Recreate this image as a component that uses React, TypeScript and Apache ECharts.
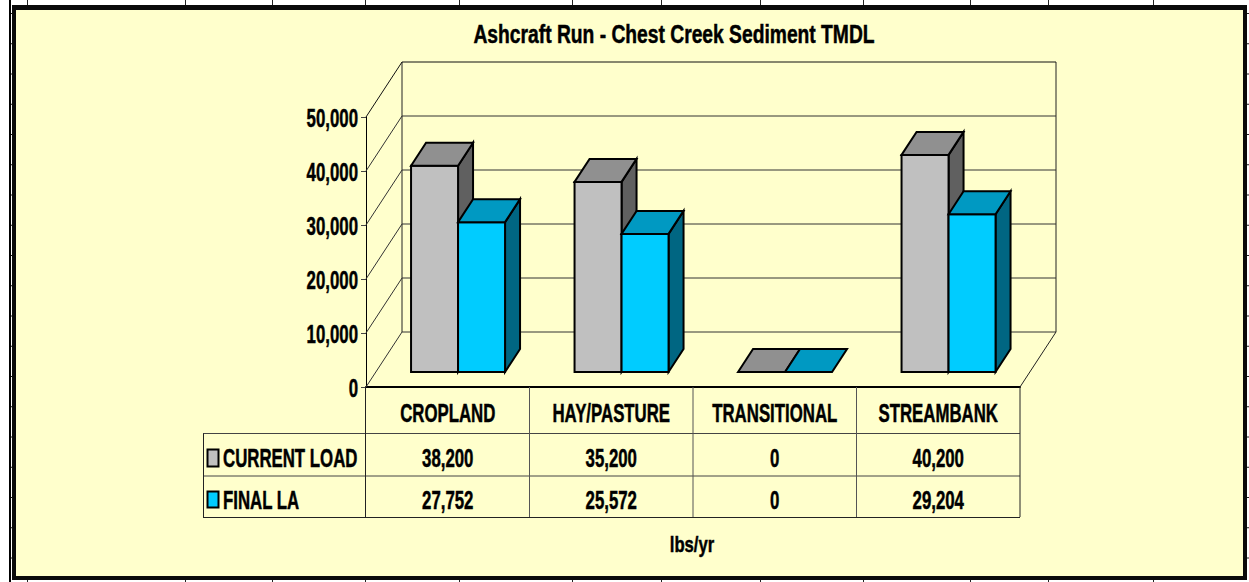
import React, { useEffect, useRef } from "react";
import * as echarts from "echarts";

const categories = ["CROPLAND", "HAY/PASTURE", "TRANSITIONAL", "STREAMBANK"];
const currentLoad = [38200, 35200, 0, 40200];
const finalLa = [27752, 25572, 0, 29204];
const tickValues = [0, 10000, 20000, 30000, 40000, 50000];
const seriesNames = ["CURRENT LOAD", "FINAL LA"];
const titleText = "Ashcraft Run - Chest Creek Sediment TMDL";
const unitText = "lbs/yr";

const FONT = '"Liberation Sans", Arial, sans-serif';
const STRETCH_Y = 1.22;
const NARROW_X = 0.82;
const TEXT_NUDGE = 1.5;
const WALL_DX = 36;
const WALL_DY = -55;
const BAR_DX = 10.3;
const BAR_DY = -15;
const DEPTH_DX = 15;
const DEPTH_DY = -23;
const GRAY = { front: "#C0C0C0", top: "#909090", side: "#606060" };
const CYAN = { front: "#00CCFF", top: "#0099C2", side: "#006682" };
const BG = "#FFFFCC";
const pageTicksX = [27, 185, 272, 365, 459, 572, 661, 760, 863, 970, 1048, 1153];
const pageTicksYCount = 19;

const label = (text: string, x: number, y: number, size: number, align = "center", sx = NARROW_X) => ({
  type: "text",
  x,
  y: y + TEXT_NUDGE,
  scaleX: sx,
  scaleY: STRETCH_Y,
  silent: true,
  style: {
    text,
    fontFamily: FONT,
    fontSize: size,
    fontWeight: "bold",
    fill: "#000",
    stroke: "#000",
    lineWidth: 0.4,
    align,
    verticalAlign: "middle",
  },
});

const fmt = (v: number) => v.toLocaleString("en-US");

const wallRender = (params: any, api: any) => {
  const cs = params.coordSys;
  const v = api.value(1);
  const y = api.coord([0, v])[1];
  const x0 = cs.x;
  const x1 = cs.x + cs.width;
  const isMax = v === tickValues[tickValues.length - 1];
  const children: any[] = [
    {
      type: "polyline",
      shape: {
        points: [
          [x0, y],
          [x0 + WALL_DX, y + WALL_DY],
          [x1 + WALL_DX, y + WALL_DY],
        ],
      },
      style: { stroke: isMax ? "#111" : "#333", lineWidth: 1, fill: "none" },
    },
    label(fmt(v), x0 - 8, y, 20.5, "right"),
  ];
  if (v === 0) {
    children.push({
      type: "line",
      shape: { x1: x1, y1: y, x2: x1 + WALL_DX, y2: y + WALL_DY },
      style: { stroke: "#222", lineWidth: 1 },
    });
    children.push({
      type: "line",
      shape: { x1: x0 + WALL_DX, y1: cs.y + WALL_DY, x2: x0 + WALL_DX, y2: y + WALL_DY },
      style: { stroke: "#222", lineWidth: 1 },
    });
    children.push({
      type: "line",
      shape: { x1: x1 + WALL_DX, y1: cs.y + WALL_DY, x2: x1 + WALL_DX, y2: y + WALL_DY },
      style: { stroke: "#222", lineWidth: 1 },
    });
  }
  return { type: "group", children };
};

const barRender = (which: number, colors: typeof GRAY) => (params: any, api: any) => {
  const idx = api.value(0);
  const [cx, yBase] = api.coord([idx, 0]);
  const yTopRaw = api.coord([idx, api.value(1)])[1];
  const w = (api.size([1, 0])[0] * 47) / 163.5;
  const xl = cx + BAR_DX - (which === 0 ? w : 0);
  const xr = xl + w;
  const yb = yBase + BAR_DY;
  const yt = yTopRaw + BAR_DY;
  const stroke = { stroke: "#000", lineWidth: 2, lineJoin: "miter" };
  const children: any[] = [];
  if (yb - yt > 0) {
    children.push({
      type: "polygon",
      shape: {
        points: [
          [xr, yt],
          [xr + DEPTH_DX, yt + DEPTH_DY],
          [xr + DEPTH_DX, yb + DEPTH_DY],
          [xr, yb],
        ],
      },
      style: { fill: colors.side, ...stroke },
    });
    children.push({
      type: "rect",
      shape: { x: xl, y: yt, width: w, height: yb - yt },
      style: { fill: colors.front, ...stroke },
    });
  }
  children.push({
    type: "polygon",
    shape: {
      points: [
        [xl, yt],
        [xl + DEPTH_DX, yt + DEPTH_DY],
        [xr + DEPTH_DX, yt + DEPTH_DY],
        [xr, yt],
      ],
    },
    style: { fill: colors.top, ...stroke },
  });
  return { type: "group", children };
};

const tableRender = (params: any, api: any) => {
  const idx = api.value(0);
  const [cx, yBase] = api.coord([idx, 0]);
  const halfW = api.size([1, 0])[0] / 2;
  const right = cx + halfW;
  const lineBottom = yBase + 130;
  return {
    type: "group",
    children: [
      {
        type: "line",
        shape: { x1: right, y1: yBase, x2: right, y2: lineBottom },
        style: { stroke: idx === categories.length - 1 ? "#222" : "#555", lineWidth: 1 },
      },
      label(categories[idx], cx, yBase + 25, 20.5),
      label(fmt(api.value(1)), cx, yBase + 70, 20.5),
      label(fmt(api.value(2)), cx, yBase + 112, 20.5),
    ],
  };
};

const hline = (x1: number, x2: number, y: number, stroke = "#333", lineWidth = 1) => ({
  type: "line",
  shape: { x1, y1: y, x2, y2: y },
  style: { stroke, lineWidth },
  z: 1,
});
const vline = (x: number, y1: number, y2: number, stroke = "#333", lineWidth = 1) => ({
  type: "line",
  shape: { x1: x, y1, x2: x, y2 },
  style: { stroke, lineWidth },
  z: 1,
});

const pageDecor: any[] = [
  { type: "rect", shape: { x: 12, y: 5, width: 1235, height: 575 }, style: { fill: "#0a0a0a" }, z: 0 },
  { type: "rect", shape: { x: 16, y: 10, width: 1227, height: 566 }, style: { fill: BG }, z: 0 },
  { type: "rect", shape: { x: 9, y: 0, width: 2, height: 582 }, style: { fill: "#000" }, z: 0 },
  ...pageTicksX.flatMap((x) => [vline(x + 0.5, 0, 5, "#222"), vline(x + 0.5, 580, 582, "#222")]),
  ...Array.from({ length: pageTicksYCount }, (_, i) => 13.5 + i * 30.25).flatMap((y) => [
    hline(11, 13, y, "#111"),
    hline(1247, 1249, y, "#222"),
  ]),
];

const tableDecor: any[] = [
  hline(203, 1020, 433.5, "#444"),
  hline(203, 1020, 476, "#444"),
  hline(203, 1020, 517.5, "#222"),
  vline(203.5, 433.5, 517.5, "#222"),
  vline(365.5, 387, 517.5, "#222"),
  { type: "rect", shape: { x: 207.5, y: 449.5, width: 11, height: 17 }, style: { fill: GRAY.front, stroke: "#000", lineWidth: 2 }, z: 2 },
  { type: "rect", shape: { x: 207.5, y: 491.5, width: 11, height: 16 }, style: { fill: CYAN.front, stroke: "#000", lineWidth: 2 }, z: 2 },
  { ...label(seriesNames[0], 223, 457, 20.5, "left"), z: 3 },
  { ...label(seriesNames[1], 223, 499, 20.5, "left"), z: 3 },
  { ...label(titleText, 674, 32.5, 21, "center", 0.917), z: 3 },
  { ...label(unitText, 692, 543, 18.5, "center", 0.9), z: 3 },
];

export default function App() {
  const ref = useRef<HTMLDivElement>(null);
  useEffect(() => {
    const chart = echarts.init(ref.current!, undefined, { renderer: "svg" });
    chart.setOption({
      animation: false,
      backgroundColor: "#fff",
      grid: { left: 366, top: 117, width: 654, height: 270, containLabel: false },
      xAxis: {
        type: "category",
        data: categories,
        boundaryGap: true,
        axisLabel: { show: false },
        axisTick: { show: false },
        axisLine: { show: true, onZero: true, lineStyle: { color: "#000", width: 2 } },
      },
      yAxis: {
        type: "value",
        min: 0,
        max: 50000,
        interval: 10000,
        axisLabel: { show: false },
        splitLine: { show: false },
        axisTick: { show: true, length: 5, lineStyle: { color: "#444" } },
        axisLine: { show: true, lineStyle: { color: "#000", width: 1 } },
      },
      graphic: { elements: [...pageDecor, ...tableDecor] },
      series: [
        {
          name: "walls",
          type: "custom",
          renderItem: wallRender,
          data: tickValues.map((v) => [0, v]),
          encode: { x: 0, y: 1 },
          z: 1,
        },
        {
          name: seriesNames[0],
          type: "custom",
          renderItem: barRender(0, GRAY),
          data: currentLoad.map((v, i) => [i, v]),
          encode: { x: 0, y: 1 },
          z: 3,
        },
        {
          name: seriesNames[1],
          type: "custom",
          renderItem: barRender(1, CYAN),
          data: finalLa.map((v, i) => [i, v]),
          encode: { x: 0, y: 1 },
          z: 4,
        },
        {
          name: "table",
          type: "custom",
          renderItem: tableRender,
          data: categories.map((_, i) => [i, currentLoad[i], finalLa[i]]),
          encode: { x: 0, y: 1 },
          z: 5,
        },
      ],
    });
    return () => chart.dispose();
  }, []);
  return <div ref={ref} style={{ position: "fixed", left: 0, top: 0, width: 1249, height: 582 }} />;
}
